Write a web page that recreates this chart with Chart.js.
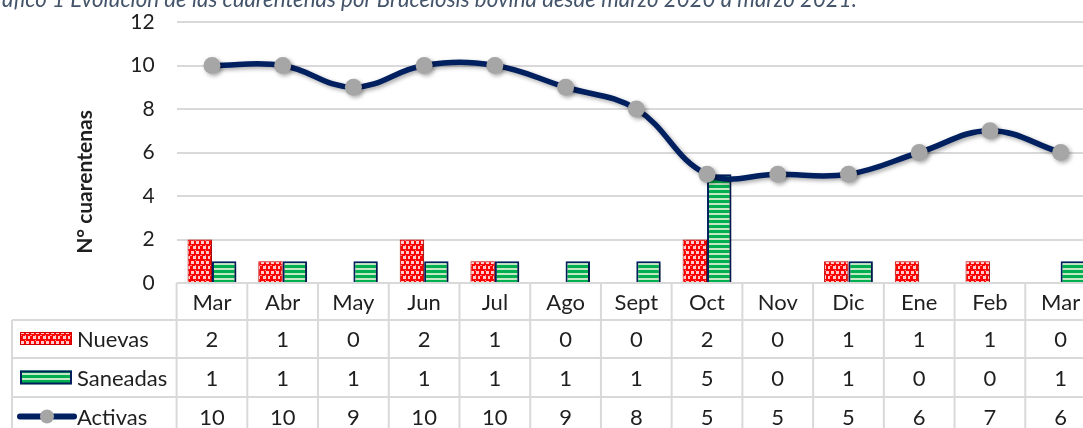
<!DOCTYPE html>
<html>
<head>
<meta charset="utf-8">
<script src="https://cdn.jsdelivr.net/npm/chart.js@4.4.1/dist/chart.umd.min.js"></script>
<style>
  html, body { margin:0; padding:0; width:1083px; height:428px; overflow:hidden; background:#fff; }
  #wrap { position:absolute; left:0; top:0; width:1096px; height:428px; }
  #title { position:absolute; left:-20px; top:-12px; white-space:nowrap; font-family:Lato, sans-serif; font-style:italic;
           font-size:22.3px; line-height:22px; color:#44546a; z-index:2; }
</style>
</head>
<body>
<div id="title">Gráfico 1 Evolución de las cuarentenas por Brucelosis bovina desde marzo 2020 a marzo 2021.</div>
<div id="wrap"><canvas id="c" width="1096" height="428"></canvas></div>
<script>
// ---- data ----
const months   = ['Mar','Abr','May','Jun','Jul','Ago','Sept','Oct','Nov','Dic','Ene','Feb','Mar'];
const nuevas   = [2, 1, 0, 2, 1, 0, 0, 2, 0, 1, 1, 1, 0];
const saneadas = [1, 1, 1, 1, 1, 1, 1, 5, 0, 1, 0, 0, 1];
const activas  = [10, 10, 9, 10, 10, 9, 8, 5, 5, 5, 6, 7, 6];
const seriesNames = ['Nuevas', 'Saneadas', 'Activas'];
const yMin = 0, yMax = 12, yStep = 2;
const yTitle = 'N° cuarentenas';

// ---- patterns ----
function makeRedPattern(ctx) {
  const c = document.createElement('canvas'); c.width = 10; c.height = 10;
  const g = c.getContext('2d');
  g.fillStyle = '#ff0000'; g.fillRect(0,0,10,10);
  g.fillStyle = '#ffcaca';
  g.fillRect(1,1,3,3); g.fillRect(6,1,3,3); g.fillRect(3,6,3,3); g.fillRect(8,6,2,3);
  g.fillStyle = '#ff8c8c';
  g.fillRect(5,5,1,1); g.fillRect(0,5,2,1); g.fillRect(5,0,1,1);
  return ctx.createPattern(c, 'repeat');
}
function makeGreenPattern(ctx) {
  const c = document.createElement('canvas'); c.width = 4; c.height = 5;
  const g = c.getContext('2d');
  g.fillStyle = '#00b050'; g.fillRect(0,0,4,5);
  g.fillStyle = '#c4e8c4'; g.fillRect(0,3,4,2);
  return ctx.createPattern(c, 'repeat');
}

const canvas = document.getElementById('c');
const ctx0 = canvas.getContext('2d');
const redPat = makeRedPattern(ctx0);
const greenPat = makeGreenPattern(ctx0);

const FONT = 'Lato, "Open Sans", sans-serif';
const TEXT = '#1f1f1f';
const GRID = '#d9d9d9';

const shadowPlugin = {
  id: 'shadow',
  beforeDatasetDraw(chart) {
    const ctx = chart.ctx; ctx.save();
    ctx.shadowColor = 'rgba(0,0,0,0.35)'; ctx.shadowBlur = 4; ctx.shadowOffsetX = 2; ctx.shadowOffsetY = 2;
  },
  afterDatasetDraw(chart) { chart.ctx.restore(); }
};

const yTitlePlugin = {
  id: 'yTitle',
  afterDraw(chart) {
    const ctx = chart.ctx;
    ctx.save();
    ctx.translate(85, 182);
    ctx.rotate(-Math.PI / 2);
    ctx.font = 'bold 21px ' + FONT;
    ctx.fillStyle = TEXT; ctx.textAlign = 'center'; ctx.textBaseline = 'middle';
    ctx.fillText(yTitle, 0, 0);
    ctx.restore();
  }
};

const tablePlugin = {
  id: 'dataTable',
  afterDraw(chart) {
    const ctx = chart.ctx, ca = chart.chartArea, x = chart.scales.x;
    const n = months.length;
    const w = (ca.right - ca.left) / n;
    const top = ca.bottom;
    const rows = [top, top + 37, top + 75, top + 114, top + 153];
    const legendLeft = 12;
    ctx.save();
    ctx.strokeStyle = GRID; ctx.lineWidth = 2;
    ctx.beginPath();
    ctx.moveTo(ca.left, rows[0]); ctx.lineTo(ca.right, rows[0]);
    for (let r = 1; r < 4; r++) { ctx.moveTo(legendLeft, rows[r]); ctx.lineTo(ca.right, rows[r]); }
    for (let i = 0; i <= n; i++) {
      const xx = ca.left + i * w;
      ctx.moveTo(xx, rows[0]); ctx.lineTo(xx, rows[4]);
    }
    ctx.moveTo(legendLeft, rows[1]); ctx.lineTo(legendLeft, rows[4]);
    ctx.stroke();

    ctx.fillStyle = TEXT; ctx.font = '22px ' + FONT;
    ctx.textAlign = 'center'; ctx.textBaseline = 'middle';
    const series = [nuevas, saneadas, activas];
    for (let i = 0; i < n; i++) {
      const cx = x.getPixelForValue(i);
      ctx.fillText(months[i], cx, (rows[0] + rows[1]) / 2 + 1);
      for (let s = 0; s < 3; s++) {
        ctx.fillText(String(series[s][i]), cx, (rows[s+1] + rows[s+2]) / 2 + 1);
      }
    }
    ctx.textAlign = 'left';
    for (let s = 0; s < 3; s++) {
      const cy = (rows[s+1] + rows[s+2]) / 2;
      ctx.fillStyle = TEXT;
      ctx.fillText(seriesNames[s], 77, cy + 1);
    }
    let cy = (rows[1] + rows[2]) / 2;
    ctx.fillStyle = redPat; ctx.fillRect(20, cy - 7, 52, 13);
    ctx.strokeStyle = '#d00000'; ctx.lineWidth = 1; ctx.strokeRect(20.5, cy - 6.5, 51, 12);
    cy = (rows[2] + rows[3]) / 2;
    ctx.fillStyle = greenPat; ctx.fillRect(20, cy - 7, 52, 14);
    ctx.strokeStyle = '#002060'; ctx.lineWidth = 2; ctx.strokeRect(21, cy - 6, 50, 12);
    cy = (rows[3] + rows[4]) / 2;
    ctx.strokeStyle = '#002060'; ctx.lineWidth = 6; ctx.lineCap = 'round';
    ctx.beginPath(); ctx.moveTo(20, cy); ctx.lineTo(74, cy); ctx.stroke();
    ctx.fillStyle = '#a6a6a6'; ctx.beginPath(); ctx.arc(47, cy, 7, 0, Math.PI * 2); ctx.fill();
    ctx.restore();
  }
};

new Chart(canvas, {
  type: 'bar',
  data: {
    labels: months,
    datasets: [
      { type: 'line', label: seriesNames[2], data: activas, order: 0,
        borderColor: '#002060', borderWidth: 5.5, tension: 0.4,
        pointRadius: 8.5, pointBackgroundColor: '#a6a6a6', pointBorderWidth: 0, pointHoverRadius: 8.5 },
      { label: seriesNames[0], data: nuevas, order: 1, backgroundColor: redPat,
        borderColor: '#d00000', borderWidth: 1, borderSkipped: 'bottom',
        barPercentage: 1.0, categoryPercentage: 0.69 },
      { label: seriesNames[1], data: saneadas, order: 1, backgroundColor: greenPat,
        borderColor: '#002060', borderWidth: 2, borderSkipped: 'bottom',
        barPercentage: 1.0, categoryPercentage: 0.69 }
    ]
  },
  options: {
    responsive: false,
    animation: false,
    devicePixelRatio: 1,
    layout: { autoPadding: false, padding: { left: 0, right: 0, top: 22, bottom: 145 } },
    plugins: { legend: { display: false }, tooltip: { enabled: false }, title: { display: false } },
    scales: {
      x: { display: false, offset: true },
      y: {
        min: yMin, max: yMax,
        ticks: { stepSize: yStep, padding: 22, color: TEXT, font: { family: FONT, size: 21 } },
        grid: { color: GRID, lineWidth: 2, drawTicks: false },
        border: { display: false },
        title: { display: false },
        afterFit(s) { s.width = 176.6; s.paddingTop = 0; s.paddingBottom = 0; }
      }
    }
  },
  plugins: [shadowPlugin, tablePlugin, yTitlePlugin]
});
</script>
</body>
</html>
